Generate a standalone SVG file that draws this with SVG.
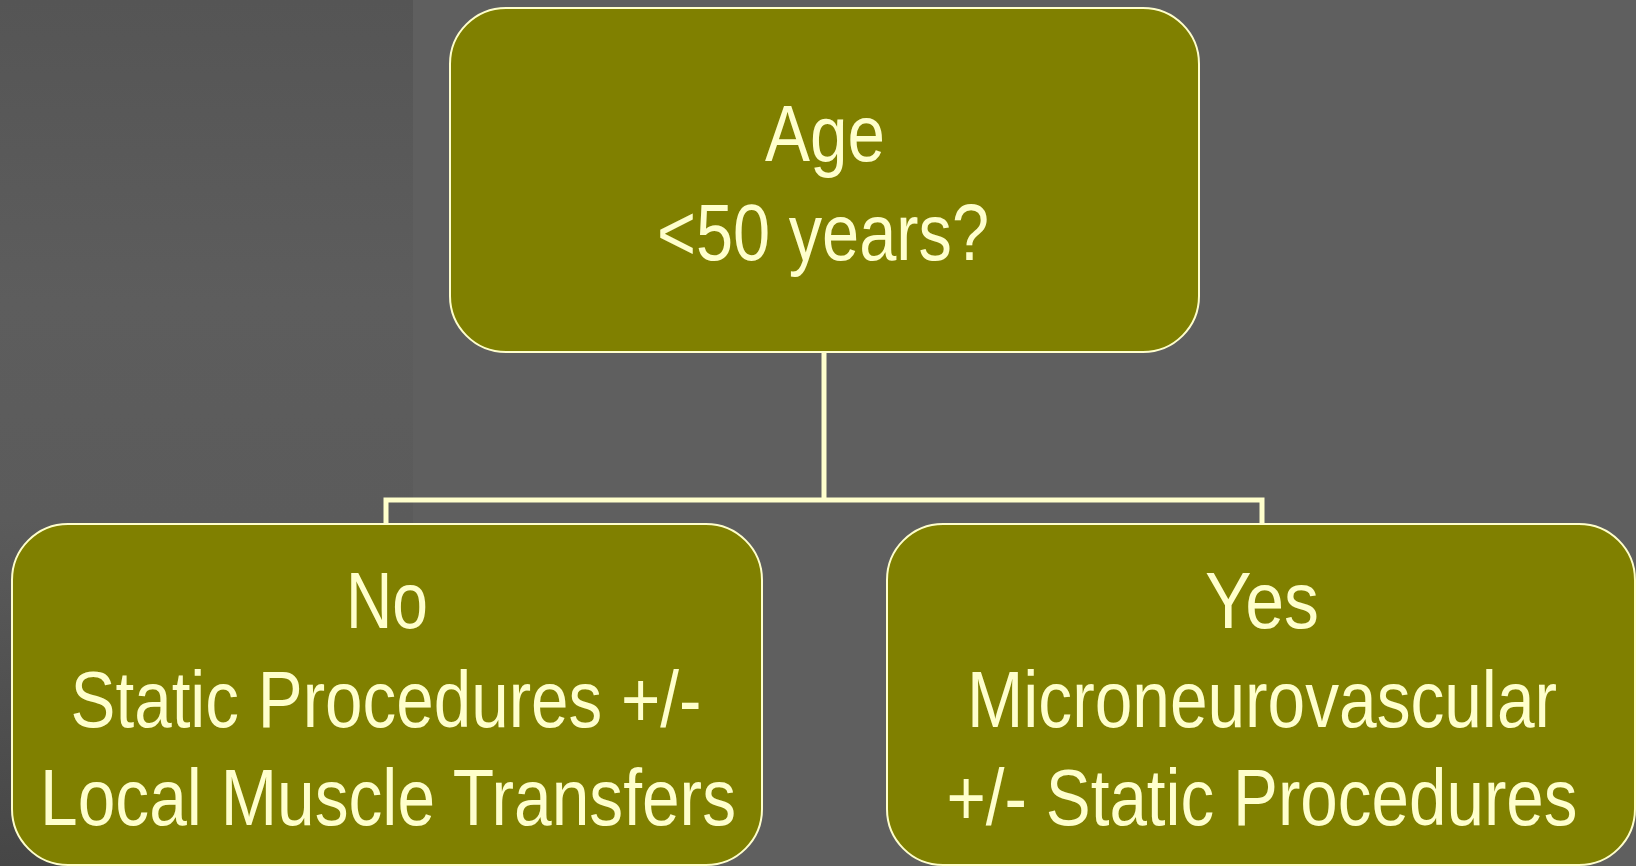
<svg xmlns="http://www.w3.org/2000/svg" width="1636" height="866" viewBox="0 0 1636 866">
<defs>
<linearGradient id="strip" x1="0" y1="0" x2="0" y2="1">
<stop offset="0" stop-color="#555555"/>
<stop offset="0.35" stop-color="#5d5d5d"/>
<stop offset="0.6" stop-color="#5b5b5b"/>
<stop offset="1" stop-color="#464646"/>
</linearGradient>
</defs>
<style>
.box{fill:#808000;stroke:#FFFFCC;stroke-width:2}
.t{font-family:"Liberation Sans Narrow","Arial Narrow","Liberation Sans",sans-serif;font-size:80px;fill:#FFFFCC;text-anchor:middle}
.conn{fill:none;stroke:#FFFFCC;stroke-width:5}
</style>
<rect x="0" y="0" width="1636" height="866" fill="#5f5f5f"/>
<rect x="0" y="0" width="413" height="866" fill="url(#strip)"/>
<g id="connectors">
<path class="conn" d="M824 352 V500"/>
<path class="conn" d="M386 525 V500 H1262 V525"/>
</g>
<g id="node-age">
<rect class="box" x="450" y="8" width="749" height="344" rx="56" ry="56"/>
<text class="t" x="825" y="161" textLength="120" lengthAdjust="spacingAndGlyphs">Age</text>
<text class="t" x="823" y="260" textLength="332" lengthAdjust="spacingAndGlyphs">&lt;50 years?</text>
</g>
<g id="node-no">
<rect class="box" x="12" y="524" width="750" height="341" rx="56" ry="56"/>
<text class="t" x="387" y="628" textLength="82" lengthAdjust="spacingAndGlyphs">No</text>
<text class="t" x="386" y="727" textLength="631" lengthAdjust="spacingAndGlyphs">Static Procedures +/-</text>
<text class="t" x="388" y="825" textLength="696" lengthAdjust="spacingAndGlyphs">Local Muscle Transfers</text>
</g>
<g id="node-yes">
<rect class="box" x="887" y="524" width="748" height="341" rx="56" ry="56"/>
<text class="t" x="1262" y="628" textLength="114" lengthAdjust="spacingAndGlyphs">Yes</text>
<text class="t" x="1262" y="727" textLength="590" lengthAdjust="spacingAndGlyphs">Microneurovascular</text>
<text class="t" x="1262" y="825" textLength="631" lengthAdjust="spacingAndGlyphs">+/- Static Procedures</text>
</g>
</svg>
